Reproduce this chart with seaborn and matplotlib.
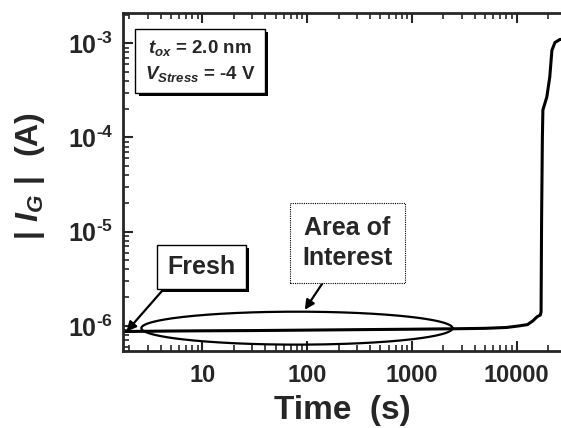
import numpy as np
import pandas as pd
import matplotlib
matplotlib.use('Agg')
import matplotlib.pyplot as plt
import matplotlib.ticker as mticker
import matplotlib.patheffects as pe
import seaborn as sns

# ---- data ----
time_s = [1.8, 3, 5, 10, 30, 100, 300, 1000, 2500, 5000, 8000, 10700, 12700,
          14300, 15700, 16800, 17100, 17300, 17600, 17800, 19400, 20700,
          21700, 23200, 25900, 27000]
current_a = [8.7e-7, 8.75e-7, 8.8e-7, 8.85e-7, 8.9e-7, 9.0e-7, 9.1e-7, 9.2e-7,
             9.3e-7, 9.4e-7, 9.6e-7, 1.0e-6, 1.03e-6, 1.13e-6, 1.25e-6, 1.3e-6,
             1.4e-6, 1.35e-5, 1.0e-4, 1.96e-4, 2.69e-4, 4.38e-4, 8.44e-4,
             1.02e-3, 1.1e-3, 1.1e-3]

x_ticks = [10, 100, 1000, 10000]
x_tick_labels = ['10', '100', '1000', '10000']
y_ticks = [1e-6, 1e-5, 1e-4, 1e-3]
y_tick_labels = [r'$\mathrm{10^{\text{-}6}}$', r'$\mathrm{10^{\text{-}5}}$',
                 r'$\mathrm{10^{\text{-}4}}$', r'$\mathrm{10^{\text{-}3}}$']

# "Area of Interest" ellipse (in decades)
ellipse_center_t = 80.0
ellipse_center_i = 9.44e-7
ellipse_half_decades_t = 1.485
ellipse_half_decades_i = 0.175

sns.set_theme(style='ticks')
plt.rcParams['font.family'] = ['Liberation Sans', 'DejaVu Sans']
plt.rcParams['font.weight'] = 'bold'
plt.rcParams['mathtext.fontset'] = 'custom'
plt.rcParams['mathtext.rm'] = 'Liberation Sans:bold'
plt.rcParams['mathtext.it'] = 'Liberation Sans:bold:italic'
plt.rcParams['mathtext.bf'] = 'Liberation Sans:bold'

fig = plt.figure(figsize=(5.61, 4.28), dpi=100)
ax = fig.add_axes([123/561, 1 - 351/428, 438/561, 338/428])

df = pd.DataFrame({'t': time_s, 'i': current_a})
sns.lineplot(data=df, x='t', y='i', ax=ax, color='black', lw=2.2,
             estimator=None, sort=False)

# ellipse drawn in log space
theta = np.linspace(0, 2*np.pi, 300)
et = 10**(np.log10(ellipse_center_t) + ellipse_half_decades_t*np.cos(theta))
ei = 10**(np.log10(ellipse_center_i) + ellipse_half_decades_i*np.sin(theta))
ax.plot(et, ei, color='black', lw=1.6)

ax.set_xscale('log')
ax.set_yscale('log')
ax.set_xlim(1.75, 26500)
ax.set_ylim(5.4e-7, 2.1e-3)

ax.set_xticks(x_ticks)
ax.set_xticklabels(x_tick_labels, fontsize=17, fontweight='bold')
ax.set_yticks(y_ticks)
ax.set_yticklabels(y_tick_labels, fontsize=18)
ax.xaxis.set_minor_locator(mticker.LogLocator(base=10, subs=np.arange(2, 10), numticks=20))
ax.yaxis.set_minor_locator(mticker.LogLocator(base=10, subs=np.arange(2, 10), numticks=20))
ax.xaxis.set_minor_formatter(mticker.NullFormatter())
ax.yaxis.set_minor_formatter(mticker.NullFormatter())

ax.tick_params(axis='x', which='both', direction='in', top=True, bottom=True)
ax.tick_params(axis='y', which='both', direction='in', left=True, right=False)
ax.tick_params(which='major', length=7, width=1.5)
ax.tick_params(which='minor', length=4, width=1.2)
ax.tick_params(axis='x', which='major', pad=9)
ax.tick_params(axis='y', which='major', pad=7)

for s in ['left', 'bottom', 'top']:
    ax.spines[s].set_linewidth(2)
ax.spines['right'].set_visible(False)

ax.set_xlabel('Time  (s)', fontsize=24, fontweight='bold', labelpad=6)
ax.set_ylabel(r'$|\ I_{G}\ |\ \ (\mathrm{A})$', fontsize=23)
ax.yaxis.set_label_coords((47 - 123) / 438, (351 - 176) / 338)

shadow = [pe.SimplePatchShadow(offset=(2.5, -2.5), shadow_rgbFace='black', alpha=1.0),
          pe.Normal()]

t1 = ax.text((200 - 123) / 438, (351 - 61) / 338, '$t_{ox}$ = 2.0 nm\n$V_{Stress}$ = -4 V',
             transform=ax.transAxes, ha='center', va='center', fontsize=13.5,
             fontweight='bold', linespacing=1.35,
             bbox=dict(boxstyle='square,pad=0.5', fc='white', ec='black', lw=1))
t1.get_bbox_patch().set_path_effects(shadow)

a1 = ax.annotate('Fresh', xy=(1.89, 8.7e-7), xycoords='data',
                 xytext=((201.5 - 123) / 438, 0.25), textcoords='axes fraction',
                 ha='center', va='center', fontsize=18, fontweight='bold',
                 bbox=dict(boxstyle='square,pad=0.4', fc='white', ec='black', lw=1),
                 arrowprops=dict(arrowstyle='-|>', color='black', lw=1.6,
                                 mutation_scale=14, relpos=(0.08, 0.0),
                                 shrinkA=0, shrinkB=0))
a1.get_bbox_patch().set_path_effects(shadow)

ax.annotate('Area of\nInterest', xy=(95, 1.48e-6), xycoords='data',
            xytext=((347.5 - 123) / 438, 0.32), textcoords='axes fraction',
            ha='center', va='center', fontsize=18, fontweight='bold',
            linespacing=1.35,
            bbox=dict(boxstyle='square,pad=0.5', fc='white', ec='black', lw=0.8, ls=(0, (1, 1))),
            arrowprops=dict(arrowstyle='-|>', color='black', lw=1.6,
                            mutation_scale=14, relpos=(0.32, 0.0),
                            shrinkA=0, shrinkB=0))

fig.savefig('out.png', dpi=100)
